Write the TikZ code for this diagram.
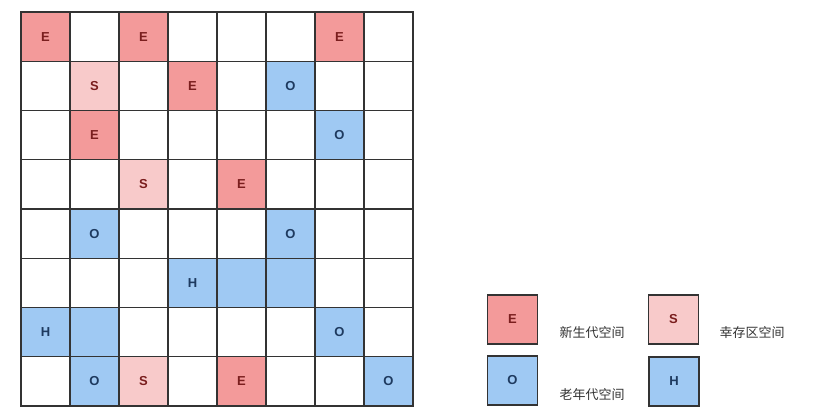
\documentclass[tikz,border=0pt]{standalone}
\usepackage{fontspec}
\setmainfont{Liberation Sans}
\newfontfamily\cjk{Noto Sans CJK SC}
\definecolor{eFill}{HTML}{F39A9A}
\definecolor{sFill}{HTML}{F8CACA}
\definecolor{oFill}{HTML}{9FC9F3}
\definecolor{eText}{HTML}{7A1E1E}
\definecolor{oText}{HTML}{1E3A5F}
\definecolor{gridLine}{HTML}{333333}
\begin{document}
\begin{tikzpicture}[x=1pt,y=-1pt,
  cell/.style={draw=gridLine,line width=1.3pt,minimum width=49pt,minimum height=49.25pt,inner sep=0pt,
    font=\fontsize{13}{15}\selectfont\bfseries},
  ecell/.style={cell,fill=eFill,text=eText},
  scell/.style={cell,fill=sFill,text=eText},
  ocell/.style={cell,fill=oFill,text=oText},
  legbox/.style={draw=gridLine,line width=1.3pt,minimum width=50pt,minimum height=49pt,inner sep=0pt,
    font=\fontsize{13}{15}\selectfont\bfseries},
  legtext/.style={font=\cjk\fontsize{13}{15}\selectfont,text=black!80,inner sep=0pt}]
\useasboundingbox (0,0) rectangle (833,416);
\fill[white] (0,0) rectangle (833,416);
% white grid
\foreach \r in {0,...,7}{
  \foreach \c in {0,...,7}{
    \node[cell,fill=white] (c\r\c) at ({21+49*\c+24.5},{12+49.25*\r+24.625}) {};
  }
}
% coloured cells
\newcommand{\gcell}[4]{\node[#3] (k#1#2) at ({21+49*#2+24.5},{12+49.25*#1+24.625}) {#4};}
\gcell{0}{0}{ecell}{E}
\gcell{0}{2}{ecell}{E}
\gcell{0}{6}{ecell}{E}
\gcell{1}{1}{scell}{S}
\gcell{1}{3}{ecell}{E}
\gcell{1}{5}{ocell}{O}
\gcell{2}{1}{ecell}{E}
\gcell{2}{6}{ocell}{O}
\gcell{3}{2}{scell}{S}
\gcell{3}{4}{ecell}{E}
\gcell{4}{1}{ocell}{O}
\gcell{4}{5}{ocell}{O}
\gcell{5}{3}{ocell}{H}
\gcell{5}{4}{ocell}{}
\gcell{5}{5}{ocell}{}
\gcell{6}{0}{ocell}{H}
\gcell{6}{1}{ocell}{}
\gcell{6}{6}{ocell}{O}
\gcell{7}{1}{ocell}{O}
\gcell{7}{2}{scell}{S}
\gcell{7}{4}{ecell}{E}
\gcell{7}{7}{ocell}{O}
% legend
\node[legbox,fill=eFill,text=eText] (lE) at (512.5,319.5) {E};
\node[legbox,fill=sFill,text=eText] (lS) at (673.5,319.5) {S};
\node[legbox,fill=oFill,text=oText] (lO) at (512.5,380.5) {O};
\node[legbox,fill=oFill,text=oText] (lH) at (674,381.5) {H};
\node[legtext] (tE) at (592,333) {新生代空间};
\node[legtext] (tS) at (752,333) {幸存区空间};
\node[legtext] (tO) at (592,395) {老年代空间};
\end{tikzpicture}
\end{document}
